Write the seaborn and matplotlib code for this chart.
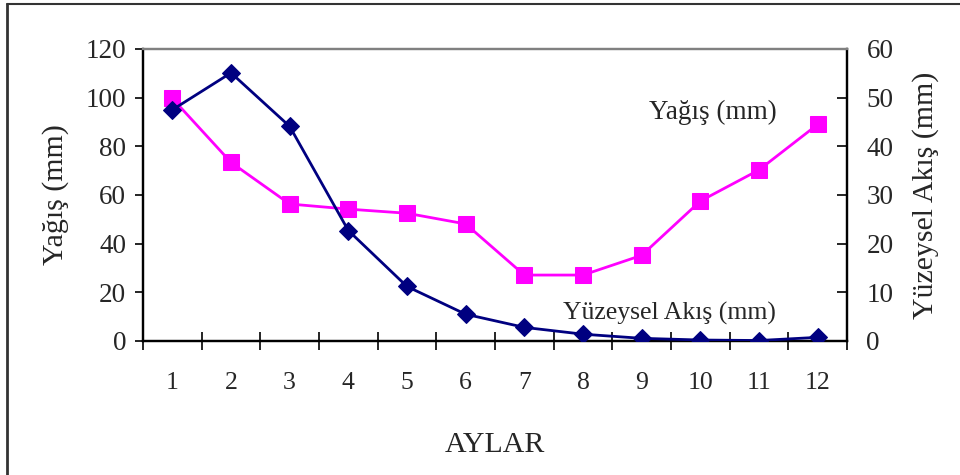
import matplotlib
matplotlib.use("Agg")
import matplotlib.pyplot as plt
from matplotlib.lines import Line2D
import seaborn as sns
import pandas as pd

months = [1, 2, 3, 4, 5, 6, 7, 8, 9, 10, 11, 12]
yagis = [99.7, 73.4, 56.3, 54.2, 52.5, 48.1, 27.1, 27.1, 35.2, 57.5, 70.3, 89.0]
akis = [47.5, 55.1, 44.1, 22.7, 11.2, 5.5, 2.8, 1.4, 0.55, 0.2, 0.1, 0.75]
left_ticks = [0, 20, 40, 60, 80, 100, 120]
right_ticks = [0, 10, 20, 30, 40, 50, 60]

sns.set_style("white")
plt.rcParams["font.family"] = ["Liberation Serif", "DejaVu Serif"]

df = pd.DataFrame({"ay": months, "yagis": yagis, "akis": akis})

fig = plt.figure(figsize=(9.6, 4.75), dpi=100)
ax = fig.add_axes([143 / 960, 1 - 341 / 475, (847 - 143) / 960, (341 - 49) / 475])

sns.lineplot(data=df, x="ay", y="yagis", ax=ax, color="#FF00FF", linewidth=2,
             marker="s", markersize=11.5, markeredgecolor="#FF00FF",
             markerfacecolor="#FF00FF", zorder=3)
ax2 = ax.twinx()
sns.lineplot(data=df, x="ay", y="akis", ax=ax2, color="#000080", linewidth=2,
             marker="D", markersize=9, markeredgecolor="#000080",
             markerfacecolor="#000080", zorder=3)

ax.set_xlim(0.5, 12.5)
ax.set_ylim(0, 120)
ax2.set_ylim(0, 60)
ax.set_yticks(left_ticks)
ax2.set_yticks(right_ticks)

# category boundary ticks on x
ax.set_xticks([m - 0.5 for m in months] + [12.5])
ax.set_xticklabels([])
ax.tick_params(axis="x", direction="inout", length=13, width=1.2, color="black",
               bottom=True)
for m in months:
    ax.text(m, -0.145, str(m), transform=ax.get_xaxis_transform(),
            ha="center", va="center", fontsize=18.5)

ax.tick_params(axis="y", direction="out", length=6, width=1.2, color="black",
               labelsize=19.5, pad=6, left=True)
ax2.tick_params(axis="y", direction="in", length=7, width=1.2, color="black",
                labelsize=19.5, pad=14, right=True)

ax.set_xlabel("AYLAR", fontsize=21.5, labelpad=0)
ax.xaxis.set_label_coords(0.5, -0.31)
ax.set_ylabel("Yağış (mm)", fontsize=21.5, labelpad=12)
ax2.set_ylabel("Yüzeysel Akış (mm)", fontsize=21.5, labelpad=13)

for a in (ax, ax2):
    a.spines["left"].set_color("black")
    a.spines["bottom"].set_color("black")
    a.spines["right"].set_color("black")
    a.spines["top"].set_color("#808080")
    for s in a.spines.values():
        s.set_linewidth(1.6)
    a.grid(False)

fig.text(713 / 960, 1 - 112 / 475, "Yağış (mm)", ha="center", va="center", fontsize=19.5)
fig.text(669 / 960, 1 - 313 / 475, "Yüzeysel Akış (mm)", ha="center", va="center", fontsize=18.5)

# chart area border (top and left visible)
fig.add_artist(Line2D([7 / 960, 1], [1 - 4 / 475, 1 - 4 / 475], transform=fig.transFigure,
                      color="#333333", linewidth=1.5))
fig.add_artist(Line2D([7 / 960, 7 / 960], [0, 1 - 4 / 475], transform=fig.transFigure,
                      color="#333333", linewidth=2))

fig.savefig("out.png", dpi=100)
